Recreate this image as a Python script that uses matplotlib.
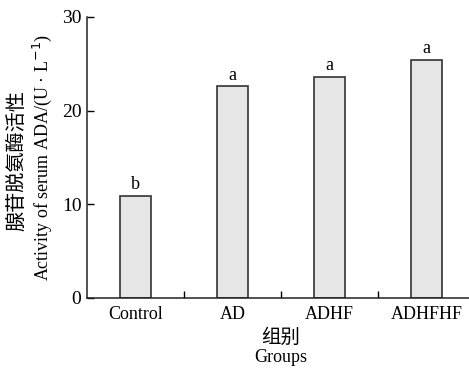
import matplotlib
matplotlib.use("Agg")
import matplotlib.pyplot as plt

categories = ["Control", "AD", "ADHF", "ADHFHF"]
values = [10.9, 22.6, 23.6, 25.4]
letters = ["b", "a", "a", "a"]
yticks = [0, 10, 20, 30]

serif = ["Liberation Serif", "Noto Sans CJK SC"]
cjk = ["Noto Sans CJK SC", "Liberation Serif"]
plt.rcParams['font.family'] = serif

fig = plt.figure(figsize=(4.69, 3.69), dpi=100)
ax = fig.add_axes([87/469, 71/369, 388/469, 281/369])
x = list(range(len(categories)))
ax.bar(x, values, width=0.31, color="#e6e6e6", edgecolor="#333333", linewidth=1.2)
for xi, v, l in zip(x, values, letters):
    ax.text(xi, v + 0.3, l, ha="center", va="bottom", fontsize=13, family=serif)

ax.set_xlim(-0.5, 3.5)
ax.set_ylim(0, 30)
ax.set_yticks(yticks)
ax.set_yticklabels([str(t) for t in yticks], fontsize=14)
ax.set_xticks(x)
ax.set_xticklabels(categories, fontsize=13)
ax.tick_params(axis="x", length=0, pad=6)
ax.set_xticks([0.5, 1.5, 2.5], minor=True)
ax.tick_params(axis="x", which="minor", direction="in", length=5, width=1)
ax.tick_params(axis="y", direction="in", length=5, width=1, pad=4)
for s in ["top", "right"]:
    ax.spines[s].set_visible(False)
for s in ["left", "bottom"]:
    ax.spines[s].set_linewidth(1.1)
    ax.spines[s].set_color("#222222")

fig.text(17/469, 1 - 161/369, "腺苷脱氨酶活性", rotation=90, ha="center", va="center",
         fontsize=14.5, family=cjk)
fig.text(42/469, 1 - 158/369, "Activity of serum ADA/(U · L$^{-1}$)", rotation=90,
         ha="center", va="center", fontsize=13, family=serif)
fig.text(281/469, 1 - 337/369, "组别", ha="center", va="center", fontsize=14, family=cjk)
fig.text(281/469, 1 - 358/369, "Groups", ha="center", va="center", fontsize=13, family=serif)

fig.savefig("out.png", dpi=100)
